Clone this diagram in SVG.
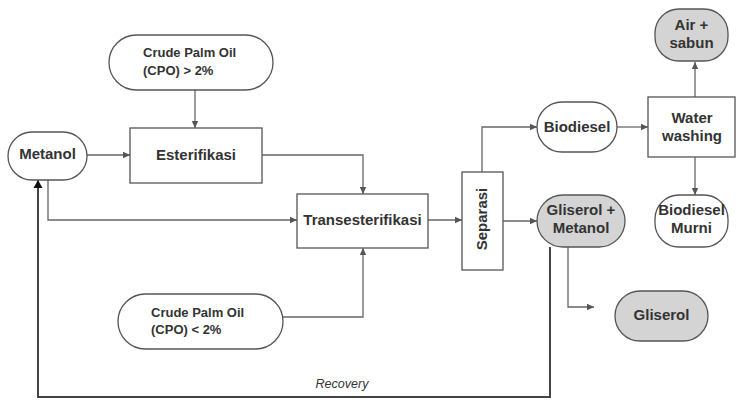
<svg xmlns="http://www.w3.org/2000/svg" width="736" height="400" viewBox="0 0 736 400">
<style>
.box{fill:#fff;stroke:#555;stroke-width:1.3}
.grey{fill:#d4d4d4;stroke:#555;stroke-width:1.3}
.t{font-family:"Liberation Sans",Arial,sans-serif;font-weight:bold;font-size:15px;fill:#333;text-anchor:middle}
.s{font-family:"Liberation Sans",Arial,sans-serif;font-weight:bold;font-size:13px;fill:#333}
.c{fill:none;stroke:#666;stroke-width:1.3}
.r{fill:none;stroke:#444;stroke-width:2}
</style>
<defs>
<marker id="ah" markerWidth="8" markerHeight="8" refX="7" refY="4" orient="auto" markerUnits="userSpaceOnUse">
<path d="M0,0.8 L7,4 L0,7.2 Z" fill="#555"/>
</marker>
<marker id="ahb" markerWidth="10" markerHeight="10" refX="8" refY="5" orient="auto" markerUnits="userSpaceOnUse">
<path d="M0,0.5 L8,5 L0,9.5 Z" fill="#111"/>
</marker>
</defs>
<rect width="736" height="400" fill="#fff"/>
<g id="connectors">
<path class="c" d="M195,90 V128" marker-end="url(#ah)"/>
<path class="c" d="M87,155 H130" marker-end="url(#ah)"/>
<path class="c" d="M262,155 H363 V194" marker-end="url(#ah)"/>
<path class="c" d="M48,180 V220 H297" marker-end="url(#ah)"/>
<path class="c" d="M283,317 H363 V248" marker-end="url(#ah)"/>
<path class="c" d="M428,220 H462" marker-end="url(#ah)"/>
<path class="c" d="M482,172 V127 H537" marker-end="url(#ah)"/>
<path class="c" d="M617,127 H648" marker-end="url(#ah)"/>
<path class="c" d="M695,97 V62" marker-end="url(#ah)"/>
<path class="c" d="M695,157 V195" marker-end="url(#ah)"/>
<path class="c" d="M503,221 H537" marker-end="url(#ah)"/>
<path class="c" d="M568,247 V307 H594" marker-end="url(#ah)"/>
<path class="r" d="M550,247 V397 H38 V180" marker-end="url(#ahb)"/>
<text x="342" y="388" font-family="'Liberation Sans',Arial,sans-serif" font-style="italic" font-size="12.5" fill="#333" text-anchor="middle">Recovery</text>
</g>
<g id="cpo-high">
<rect class="box" x="109" y="35" width="164" height="55" rx="27.5"/>
<text class="s" x="143" y="57">Crude Palm Oil</text>
<text class="s" x="143" y="75">(CPO) &gt; 2%</text>
</g>
<g id="metanol">
<rect class="box" x="8" y="132" width="79" height="48" rx="24"/>
<text class="t" x="47.5" y="159">Metanol</text>
</g>
<g id="esterifikasi">
<rect class="box" x="130" y="128" width="132" height="55"/>
<text class="t" x="196" y="160">Esterifikasi</text>
</g>
<g id="transesterifikasi">
<rect class="box" x="297" y="194" width="131" height="54"/>
<text class="t" x="362.5" y="225">Transesterifikasi</text>
</g>
<g id="cpo-low">
<rect class="box" x="118" y="294" width="165" height="55" rx="27.5"/>
<text class="s" x="151" y="317">Crude Palm Oil</text>
<text class="s" x="151" y="334">(CPO) &lt; 2%</text>
</g>
<g id="separasi">
<rect class="box" x="462" y="172" width="41" height="98"/>
<text class="t" transform="translate(487,219) rotate(-90)" x="0" y="0">Separasi</text>
</g>
<g id="biodiesel">
<rect class="box" x="537" y="102" width="80" height="50" rx="25"/>
<text class="t" x="577" y="132">Biodiesel</text>
</g>
<g id="water-washing">
<rect class="box" x="648" y="97" width="87" height="60"/>
<text class="t" x="692" y="123">Water</text>
<text class="t" x="692" y="141">washing</text>
</g>
<g id="air-sabun">
<rect class="grey" x="655" y="9" width="73" height="52" rx="24"/>
<text class="t" x="691.5" y="30">Air +</text>
<text class="t" x="691.5" y="48">sabun</text>
</g>
<g id="biodiesel-murni">
<rect class="box" x="655" y="195" width="73" height="52" rx="24"/>
<text class="t" x="691.5" y="215">Biodiesel</text>
<text class="t" x="691.5" y="233">Murni</text>
</g>
<g id="gliserol-metanol">
<rect class="grey" x="537" y="195" width="88" height="52" rx="26"/>
<text class="t" x="581" y="215">Gliserol +</text>
<text class="t" x="581" y="233">Metanol</text>
</g>
<g id="gliserol">
<rect class="grey" x="615" y="291" width="93" height="50" rx="25"/>
<text class="t" x="661.5" y="320">Gliserol</text>
</g>
</svg>
